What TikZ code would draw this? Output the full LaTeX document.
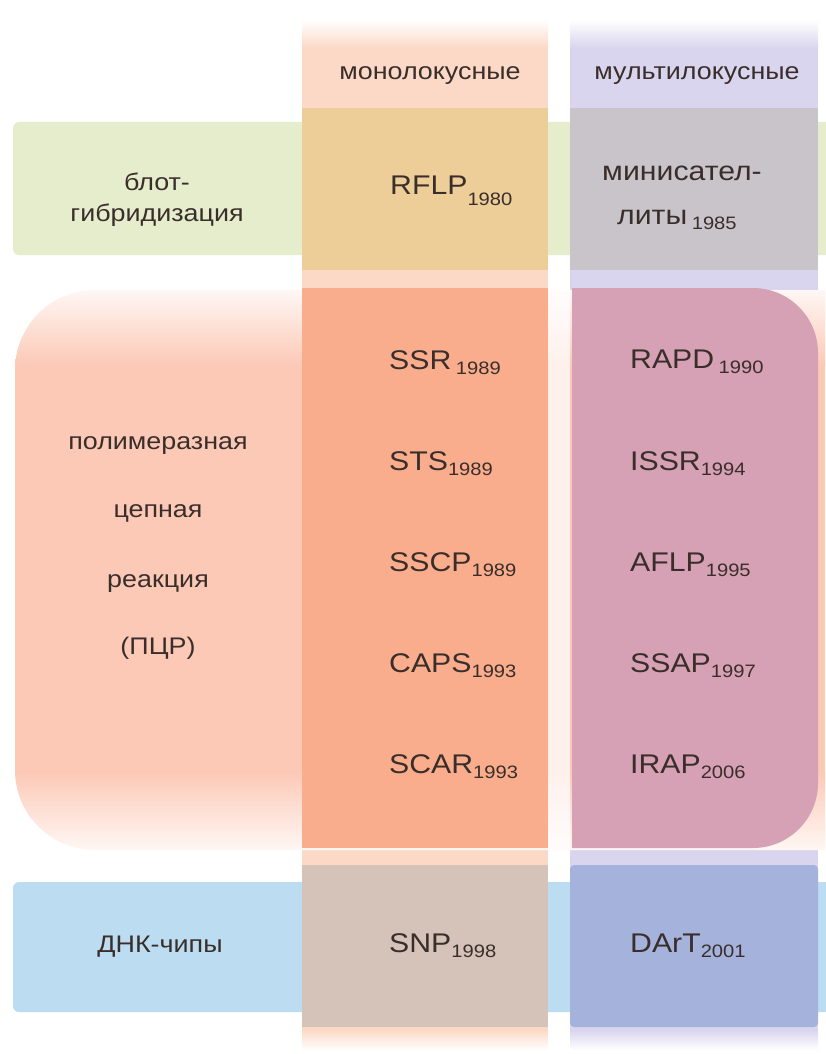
\documentclass[tikz,border=0pt]{standalone}
\usepackage{fontspec}
\setmainfont{Liberation Sans}[FakeStretch=1.12]
\usepackage{tikz}
\usetikzlibrary{positioning}

\definecolor{monocol}{HTML}{FCD9C6}
\definecolor{multicol}{HTML}{D9D5EE}
\definecolor{blotband}{HTML}{E5EDCD}
\definecolor{pcrband}{HTML}{FCC9B7}
\definecolor{chipband}{HTML}{BCDDF1}
\definecolor{rflpcell}{HTML}{EDCE99}
\definecolor{minicell}{HTML}{C9C4CA}
\definecolor{monopcr}{HTML}{F9AD8C}
\definecolor{multipcr}{HTML}{D6A0B5}
\definecolor{snpcell}{HTML}{D5C2B8}
\definecolor{dartcell}{HTML}{A4B2DC}
\definecolor{txt}{HTML}{3A2E2B}

\newcommand{\yr}[2][5pt]{\raisebox{-#1}{\fontsize{18}{20}\selectfont #2}}

\begin{document}
\begin{tikzpicture}[x=1pt,y=-1pt,
  lbl/.style={font=\fontsize{27}{30}\selectfont,text=txt,inner sep=0pt},
  hdr/.style={font=\fontsize{24}{28}\selectfont,text=txt,inner sep=0pt}]
            \fill[white] (0,0) rectangle (825,1054);
            \useasboundingbox (0,0) rectangle (825,1054);

            \shade[top color=white,bottom color=monocol] (302,20) rectangle (548,48);
            \fill[monocol] (302,48) rectangle (548,1030);
            \shade[top color=monocol,bottom color=white] (302,1030) rectangle (548,1050);
            \shade[top color=white,bottom color=multicol] (570,20) rectangle (818,48);
            \fill[multicol] (570,48) rectangle (818,1030);
            \shade[top color=multicol,bottom color=white] (570,1030) rectangle (818,1050);

            \fill[blotband,rounded corners=6] (13,122) rectangle (840,255);
            \begin{scope}
            \clip[rounded corners=80] (15,290) rectangle (905,850);
            \fill[pcrband] (0,365) rectangle (825,772);
            \shade[top color=pcrband!15,bottom color=pcrband] (0,290) rectangle (825,365);
            \shade[top color=pcrband,bottom color=pcrband!15] (0,772) rectangle (825,850);
            \end{scope}
            \fill[chipband,rounded corners=6] (13,882) rectangle (840,1012);
            \fill[white,opacity=.75] (548,290) rectangle (570,850);

            \fill[rflpcell] (302,108) rectangle (548,270);
            \fill[minicell] (570,108) rectangle (818,270);
            \fill[monopcr] (302,288) rectangle (548,848);
            \fill[multipcr] (572,288) -- (753,288) arc[start angle=-90,end angle=0,radius=65]
              -- (818,783) arc[start angle=0,end angle=90,radius=65] -- (572,848) -- cycle;
            \fill[snpcell] (302,865) rectangle (548,1027);
            \fill[dartcell,rounded corners=4] (570,865) rectangle (818,1027);

            \node[hdr,anchor=base] (A) at (430,80) {монолокусные};
            \node[hdr,anchor=base] (B) at (697,80) {мультилокусные};
            \node[hdr,anchor=base] (C) at (157,190) {блот-};
            \node[hdr,anchor=base] (D) at (157,221) {гибридизация};
            \node[lbl,anchor=base west] (E) at (390,194) {RFLP\yr[11pt]{1980}};
            \node[lbl,anchor=base west] (F) at (602,180) {минисател-};
            \node[lbl,anchor=base west] (G) at (617,224) {литы\,\yr{1985}};

            \node[hdr,anchor=base] (H) at (158,449) {полимеразная};
            \node[hdr,anchor=base] (I) at (158,517) {цепная};
            \node[hdr,anchor=base] (J) at (158,587) {реакция};
            \node[hdr,anchor=base] (K) at (158,654) {(ПЦР)};
            \node[lbl,anchor=base west] (L) at (389,369) {SSR\,\yr{1989}};
            \node[lbl,anchor=base west] (M) at (389,470) {STS\yr{1989}};
            \node[lbl,anchor=base west] (N) at (389,571) {SSCP\yr{1989}};
            \node[lbl,anchor=base west] (O) at (389,672) {CAPS\yr{1993}};
            \node[lbl,anchor=base west] (P) at (389,773) {SCAR\yr{1993}};
            \node[lbl,anchor=base west] (Q) at (630,368) {RAPD\,\yr{1990}};
            \node[lbl,anchor=base west] (R) at (630,470) {ISSR\yr{1994}};
            \node[lbl,anchor=base west] (S) at (630,571) {AFLP\yr{1995}};
            \node[lbl,anchor=base west] (T) at (630,672) {SSAP\yr{1997}};
            \node[lbl,anchor=base west] (U) at (630,773) {IRAP\yr{2006}};

            \node[hdr,anchor=base] (V) at (160,952) {ДНК-чипы};
            \node[lbl,anchor=base west] (W) at (389,952) {SNP\yr{1998}};
            \node[lbl,anchor=base west] (X) at (630,952) {DArT\yr{2001}};
          \end{tikzpicture}
\end{document}
